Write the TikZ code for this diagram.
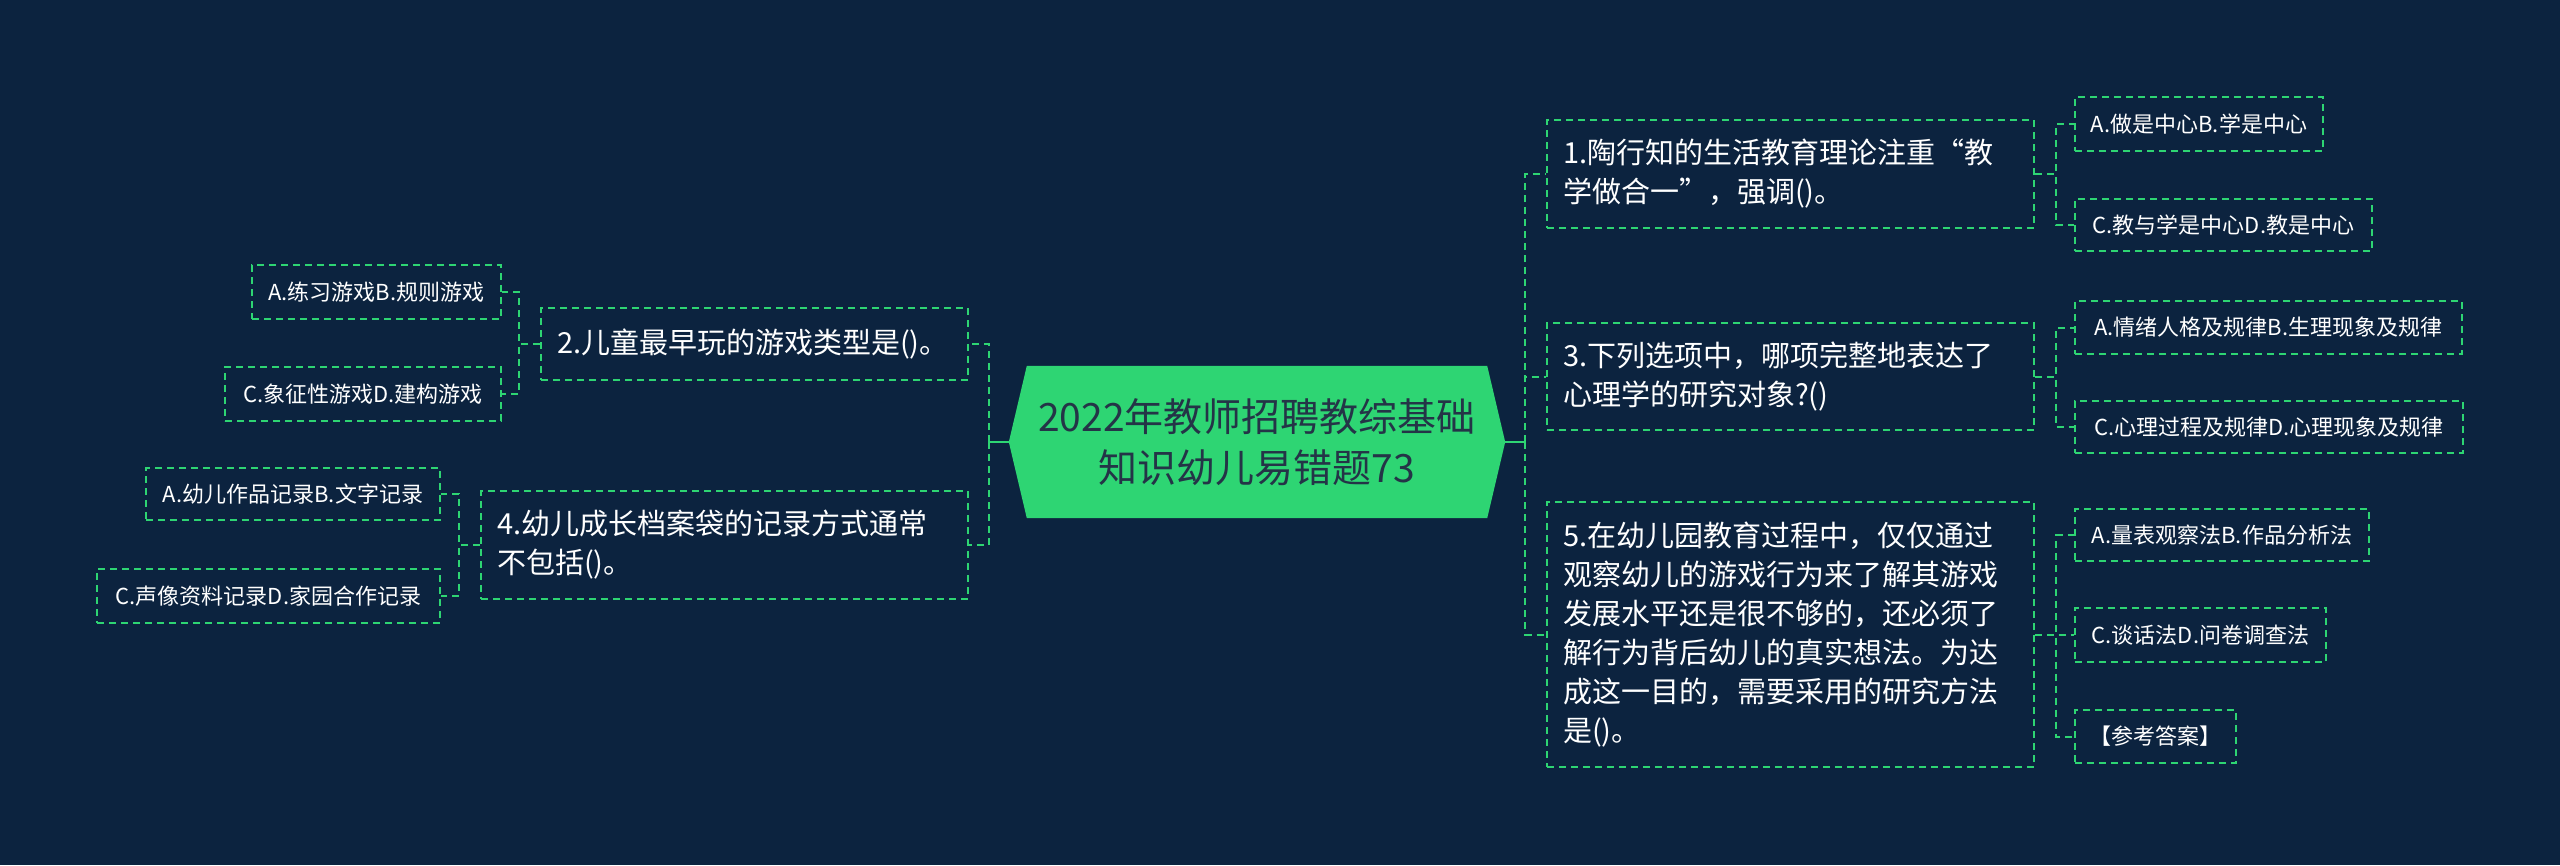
\documentclass[tikz,border=0pt]{standalone}
\usepackage{fontspec}
\newfontfamily\cjk{Noto Sans CJK SC}
\usetikzlibrary{backgrounds}
\definecolor{bgc}{HTML}{0C233F}
\definecolor{grn}{HTML}{2ED573}
\definecolor{ctext}{HTML}{243447}
\tikzset{
  x=1pt,y=-1pt,
  conn/.style={draw=grn,line width=2pt,dash pattern=on 7pt off 5pt},
  stub/.style={draw=grn,line width=2.5pt},
  qbox/.style={draw=grn,line width=2pt,dash pattern=on 7pt off 5pt,text=white,
    font=\cjk\fontsize{29}{39}\selectfont,align=left,inner xsep=16pt,inner ysep=0pt,
    anchor=north west},
  abox/.style={draw=grn,line width=2pt,dash pattern=on 7pt off 5pt,text=white,
    font=\cjk\fontsize{22}{28}\selectfont,align=center,inner sep=0pt,anchor=north west},
}
\begin{document}
\begin{tikzpicture}
\useasboundingbox (0,0) rectangle (2560,865);
\begin{scope}[on background layer]
\fill[bgc] (0,0) rectangle (2560,865);
\end{scope}

% center
\node (c) at (1257,442) [minimum width=496pt,minimum height=152pt,inner sep=0pt,
  text=ctext,align=center,font=\cjk\fontsize{39}{51}\selectfont]
  {2022年教师招聘教综基础\\知识幼儿易错题73};
\begin{scope}[on background layer]
\fill[grn] (c.west) -- ([xshift=18pt]c.north west) -- ([xshift=-18pt]c.north east)
  -- (c.east) -- ([xshift=-18pt]c.south east) -- ([xshift=18pt]c.south west) -- cycle;
\end{scope}

% right questions
\node[qbox,text width=455pt,minimum height=108pt] (q1) at (1546,119)
  {1.陶行知的生活教育理论注重“教\\学做合一”，强调()。};
\node[qbox,text width=455pt,minimum height=107pt] (q3) at (1546,322)
  {3.下列选项中，哪项完整地表达了\\心理学的研究对象?()};
\node[qbox,text width=455pt,minimum height=265pt] (q5) at (1546,501)
  {5.在幼儿园教育过程中，仅仅通过\\观察幼儿的游戏行为来了解其游戏\\发展水平还是很不够的，还必须了\\解行为背后幼儿的真实想法。为达\\成这一目的，需要采用的研究方法\\是()。};

% right answers
\node[abox,minimum width=248pt,minimum height=54pt] (q1a) at (2074,96) {A.做是中心B.学是中心};
\node[abox,minimum width=297pt,minimum height=52pt] (q1c) at (2074,198) {C.教与学是中心D.教是中心};
\node[abox,minimum width=387pt,minimum height=53pt] (q3a) at (2074,300) {A.情绪人格及规律B.生理现象及规律};
\node[abox,minimum width=388pt,minimum height=52pt] (q3c) at (2074,400) {C.心理过程及规律D.心理现象及规律};
\node[abox,minimum width=294pt,minimum height=52pt] (q5a) at (2074,508) {A.量表观察法B.作品分析法};
\node[abox,minimum width=251pt,minimum height=54pt] (q5c) at (2074,607) {C.谈话法D.问卷调查法};
\node[abox,minimum width=161pt,minimum height=53pt] (q5k) at (2074,709) {【参考答案】};

% left questions
\node[qbox,text width=395pt,minimum height=72pt] (q2) at (540,307)
  {2.儿童最早玩的游戏类型是()。};
\node[qbox,text width=455pt,minimum height=108pt] (q4) at (480,490)
  {4.幼儿成长档案袋的记录方式通常\\不包括()。};

% left answers
\node[abox,minimum width=249pt,minimum height=54pt] (q2a) at (251,264) {A.练习游戏B.规则游戏};
\node[abox,minimum width=276pt,minimum height=54pt] (q2c) at (224,366) {C.象征性游戏D.建构游戏};
\node[abox,minimum width=294pt,minimum height=52pt] (q4a) at (145,467) {A.幼儿作品记录B.文字记录};
\node[abox,minimum width=343pt,minimum height=54pt] (q4c) at (96,568) {C.声像资料记录D.家园合作记录};

% connectors
\coordinate (rt) at (1525,442);
\coordinate (lt) at (989,442);
\draw[stub] (c.east) -- (rt);
\draw[stub] (c.west) -- (lt);
\draw[conn] (rt) |- (q1.west);
\draw[conn] (rt) |- (q3.west);
\draw[conn] (rt) |- (q5.west);
\draw[conn] (lt) |- (q2.east);
\draw[conn] (lt) |- (q4.east);

\draw[conn] (q1.east) -- ++(21,0) |- (q1a.west);
\draw[conn] (q1.east) -- ++(21,0) |- (q1c.west);
\draw[conn] (q3.east) -- ++(21,0) |- (q3a.west);
\draw[conn] (q3.east) -- ++(21,0) |- (q3c.west);
\draw[conn] (q5.east) -- ++(21,0) |- (q5a.west);
\draw[conn] (q5.east) -- ++(21,0) |- (q5c.west);
\draw[conn] (q5.east) -- ++(21,0) |- (q5k.west);

\draw[conn] (q2.west) -- ++(-21,0) |- (q2a.east);
\draw[conn] (q2.west) -- ++(-21,0) |- (q2c.east);
\draw[conn] (q4.west) -- ++(-21,0) |- (q4a.east);
\draw[conn] (q4.west) -- ++(-21,0) |- (q4c.east);
\end{tikzpicture}
\end{document}
